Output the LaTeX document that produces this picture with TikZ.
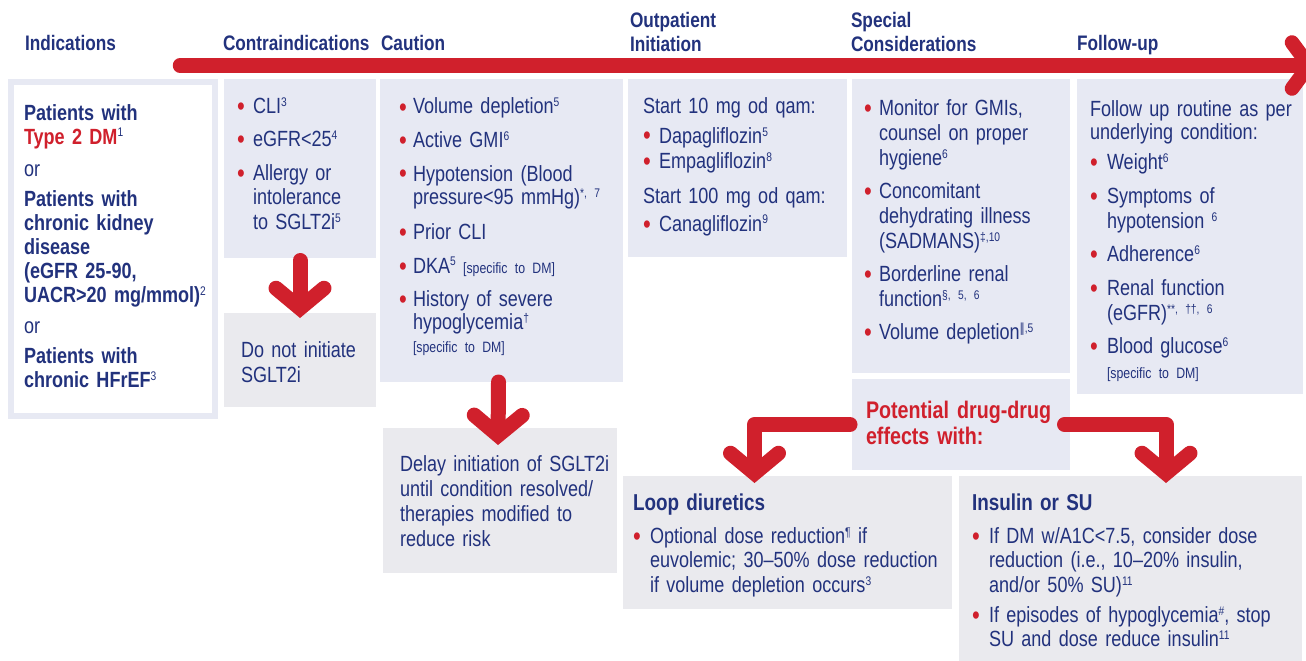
\documentclass[tikz,border=0pt]{standalone}
\usepackage{fontspec}
\setmainfont{Liberation Sans}[FakeStretch=0.82]
\newfontfamily\symf{DejaVu Sans}[FakeStretch=0.82]
\usetikzlibrary{arrows.meta}
\definecolor{navy}{RGB}{34,50,125}
\definecolor{ddred}{RGB}{208,32,44}
\definecolor{lav}{RGB}{231,233,243}
\definecolor{gry}{RGB}{234,234,238}
\setlength\parindent{0pt}
\newlength\bw
\newcommand\bul{\makebox[\bw][l]{\raisebox{-2pt}{\fontsize{27}{0}\selectfont\textcolor{ddred}{\textbullet}}}}
\newcommand\itm[1]{\strut\bul\parbox[t]{\dimexpr\hsize-\bw\relax}{\strut#1\strut}\par}
\newcommand\sps[1]{\raisebox{7pt}{\fontsize{12.5}{12}\selectfont #1}}
\newcommand\smalltxt[1]{{\fontsize{15}{15}\selectfont #1}}
\tikzset{
  box/.style={anchor=north west, inner sep=0pt, outer sep=0pt},
  lbox/.style={box, fill=lav},
  gbox/.style={box, fill=gry},
  txt/.style={anchor=north west, inner sep=0pt, outer sep=0pt, align=left, text=navy,
    execute at begin node={\lineskip=0pt}},
  head/.style={txt, text width=200pt, font=\fontsize{21}{23.5}\selectfont\bfseries},
  redarrow/.style={draw=ddred, line width=15pt, line cap=round, line join=round,
    -{Straight Barb[length=20pt, width=48pt, line cap=round, line join=miter]}},
}
\begin{document}
\begin{tikzpicture}[x=1pt, y=-1pt]
\useasboundingbox (0,0) rectangle (1306,661);
% boxes
\node[box, draw=lav, line width=6pt, fill=white, minimum width=204pt, minimum height=334pt] (ind) at (11,82) {};
\node[lbox, minimum width=152pt, minimum height=179pt] (contra) at (224,79) {};
\node[gbox, minimum width=152pt, minimum height=94pt] (dni) at (224,313) {};
\node[lbox, minimum width=243pt, minimum height=303pt] (caut) at (380,79) {};
\node[gbox, minimum width=234pt, minimum height=145pt] (delay) at (383,428) {};
\node[lbox, minimum width=219pt, minimum height=178pt] (outp) at (628,79) {};
\node[lbox, minimum width=218pt, minimum height=294pt] (spec) at (852,79) {};
\node[lbox, minimum width=218pt, minimum height=91pt] (pot) at (852,379) {};
\node[lbox, minimum width=226pt, minimum height=315pt] (foll) at (1077,79) {};
\node[gbox, minimum width=329pt, minimum height=133pt] (loop) at (623,476) {};
\node[gbox, minimum width=343pt, minimum height=185pt] (ins) at (959,476) {};
% main timeline arrow
\coordinate (t0) at (180,65.5);
\coordinate (t1) at (1318,65.5);
\draw[redarrow, line width=14.5pt, -{Straight Barb[length=17pt, width=46pt, line cap=round, line join=miter]}] (t0) -- (t1);
% down arrows
\draw[redarrow] ([yshift=-2.5pt]contra.south) -- ([yshift=-5pt]dni.north);
\draw[redarrow] ([xshift=-3pt]caut.south) -- ([xshift=-2pt,yshift=-17pt]delay.north);
\draw[redarrow] ([xshift=-2pt]pot.west) -| ([xshift=-33pt,yshift=-7pt]loop.north);
\draw[redarrow] ([xshift=-5.5pt]pot.east) -| ([xshift=35.5pt,yshift=-7pt]ins.north);
% headers
\node[head] (hInd) at (25,34.55) {\strut Indications};
\node[head] (hCon) at (223,34.55) {\strut Contraindications};
\node[head] (hCau) at (381,34.55) {\strut Caution};
\node[head] (hOut) at (630,11.55) {\strut Outpatient\\Initiation};
\node[head] (hSpe) at (851,11.55) {\strut Special\\Considerations};
\node[head] (hFol) at (1077,34.55) {\strut Follow-up};
% indications text
\node[txt, text width=195pt, font=\fontsize{22}{24}\selectfont] (indT) at (24,103.2) {%
\strut\textbf{Patients with}\\
\textbf{\textcolor{ddred}{Type 2 DM}}\sps{1}\\[8.5pt]
or\\[6pt]
\textbf{Patients with}\\
\textbf{chronic kidney}\\
\textbf{disease}\\
\textbf{(eGFR 25-90,}\\
\textbf{UACR>20 mg/mmol)}\sps{2}\\[7pt]
or\\[6pt]
\textbf{Patients with}\\
\textbf{chronic HFrEF}\sps{3}};
% contraindications
\node[txt, text width=140pt, font=\fontsize{22}{24.5}\selectfont] (contraT) at (237,95.85) {%
\setlength\bw{16pt}\setlength\parskip{9pt}%
\itm{CLI\sps{3}}
\itm{eGFR<25\sps{4}}
\itm{Allergy or\\ intolerance\\ to SGLT2i\sps{5}}};
\node[txt, text width=130pt, font=\fontsize{22}{25}\selectfont] (dniT) at (241,339.5) {\strut Do not initiate\\SGLT2i};
% caution
\node[txt, text width=222pt, font=\fontsize{22}{23}\selectfont] (cautT) at (399,97.9) {%
\setlength\bw{14pt}\setlength\parskip{10.5pt}%
\itm{Volume depletion\sps{5}}
\itm{Active GMI\sps{6}}
\itm{Hypotension (Blood\\ pressure<95 mmHg)\sps{*, 7}}\vspace{2pt}
\itm{Prior CLI}
\itm{DKA\sps{5} \smalltxt{[specific to DM]}}
\itm{History of severe\\ hypoglycemia\sps{†}\\ \smalltxt{[specific to DM]}}};
\node[txt, text width=220pt, font=\fontsize{22}{24.7}\selectfont] (delayT) at (400,454.7) {%
\strut Delay initiation of SGLT2i\\until condition resolved/\\therapies modified to\\reduce risk};
% outpatient
\node[txt, text width=205pt, font=\fontsize{22}{23}\selectfont] (outpT) at (643,96.9) {%
\setlength\bw{16pt}\setlength\parskip{0pt}%
\noindent\strut Start 10 mg od qam:\par\vspace{7pt}
\itm{Dapagliflozin\sps{5}}\vspace{2pt}
\itm{Empagliflozin\sps{8}}\vspace{12pt}
\noindent Start 100 mg od qam:\par\vspace{5pt}
\itm{Canagliflozin\sps{9}}};
% special considerations
\node[txt, text width=205pt, font=\fontsize{22}{25}\selectfont] (specT) at (864,97.5) {%
\setlength\bw{15pt}\setlength\parskip{8.3pt}%
\itm{Monitor for GMIs,\\ counsel on proper\\ hygiene\sps{6}}
\itm{Concomitant\\ dehydrating illness\\ (SADMANS)\sps{‡,10}}
\itm{Borderline renal\\ function\sps{§, 5, 6}}
\itm{Volume depletion\sps{{\symf ‖},5}}};
\node[txt, text width=205pt, font=\fontsize{24}{26}\selectfont\bfseries, text=ddred] (potT) at (866,399.8) {%
\strut Potential drug-drug\\effects with:};
% follow-up
\node[txt, text width=218pt, font=\fontsize{22}{24.5}\selectfont] (follT) at (1090,99.5) {%
\setlength\bw{17pt}\setlength\parskip{9.25pt}%
{\baselineskip=21pt \noindent\strut Follow up routine as per\newline underlying condition:\par}
\vspace{-3.75pt}
\itm{Weight\sps{6}}
\itm{Symptoms of\\ hypotension \sps{6}}
\itm{Adherence\sps{6}}
\itm{Renal function\\ (eGFR)\sps{**, ††, 6}}
\itm{Blood glucose\sps{6}\\ \smalltxt{[specific to DM]}}};
% loop diuretics
\node[txt, text width=315pt, font=\fontsize{22}{24.5}\selectfont] (loopT) at (633,492.85) {%
\setlength\bw{17pt}\setlength\parskip{8.5pt}%
\noindent{\fontsize{23}{24.5}\selectfont\bfseries\strut Loop diuretics}\par
\itm{Optional dose reduction\sps{¶} if\\ euvolemic; 30–50\% dose reduction\\ if volume depletion occurs\sps{3}}};
% insulin or SU
\node[txt, text width=330pt, font=\fontsize{22}{24.5}\selectfont] (insT) at (972,492.85) {%
\setlength\bw{17pt}\setlength\parskip{5.5pt}%
\noindent{\fontsize{23}{24.5}\selectfont\bfseries\strut Insulin or SU}\par\vspace{3pt}
\itm{If DM w/A1C<7.5, consider dose\\ reduction (i.e., 10–20\% insulin,\\ and/or 50\% SU)\sps{11}}
\itm{If episodes of hypoglycemia\sps{\#}, stop\\ SU and dose reduce insulin\sps{11}}};
\end{tikzpicture}
\end{document}
